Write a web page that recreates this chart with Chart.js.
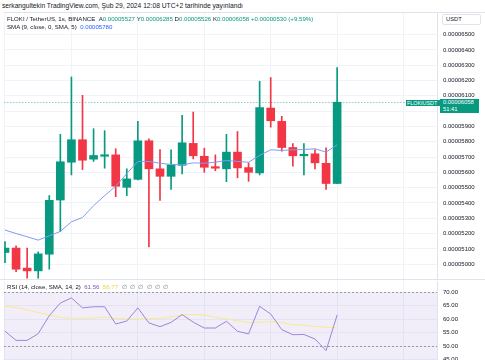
<!DOCTYPE html>
<html>
<head>
<meta charset="utf-8">
<script src="https://cdn.jsdelivr.net/npm/chart.js@4.4.1/dist/chart.umd.min.js"></script>
<style>
  body { margin: 0; width: 485px; height: 360px; overflow: hidden; background: #fff;
         font-family: "Liberation Sans", Arial, sans-serif; color: #131722; position: relative; }
  .t { position: absolute; white-space: nowrap; line-height: 1; }
  .g { color: #089981; }
  #main { position: absolute; left: 0; top: 13px; }
  #rsi { position: absolute; left: 0; top: 281px; }
  #sep { position: absolute; left: 0; top: 279px; width: 485px; height: 1px; background: #e0e3eb; }
  #frame { position: absolute; left: 4px; top: 12px; width: 481px; height: 1px; background: #e0e3eb; }
</style>
</head>
<body>
<div class="t" style="left:2px;top:3px;font-size:6.7px;">serkangultekin TradingView.com, Şub 29, 2024 12:08 UTC+2 tarihinde yayınlandı</div>
<div id="frame"></div>
<canvas id="main" width="485" height="266"></canvas>
<div id="sep"></div>
<canvas id="rsi" width="485" height="79"></canvas>

<div class="t" style="left:7px;top:16px;font-size:6.1px;">FLOKI / TetherUS, 1s, BINANCE&nbsp;&nbsp;A<span class="g">0.00005527</span>&nbsp;Y<span class="g">0.00006285</span>&nbsp;D<span class="g">0.00005526</span>&nbsp;K<span class="g">0.00006058</span>&nbsp;<span class="g">+0.00000530 (+9.59%)</span></div>
<div class="t" style="left:7px;top:24px;font-size:6.1px;">SMA (9, close, 0, SMA, 5)&nbsp;&nbsp;<span style="color:#2962ff">0.00005780</span></div>
<div class="t" style="left:7px;top:283.5px;font-size:6.1px;">RSI (14, close, SMA, 14, 2)&nbsp;&nbsp;<span style="color:#7e57c2">61.56</span>&nbsp;&nbsp;<span style="color:#f2d33a">56.77</span>&nbsp;&nbsp;<span style="color:#787b86">∅&nbsp;&nbsp;∅&nbsp;&nbsp;∅&nbsp;&nbsp;∅&nbsp;&nbsp;∅&nbsp;&nbsp;∅</span></div>

<div class="t" style="left:442px;top:14px;width:34px;height:9px;border:1px solid #e0e3eb;border-radius:2px;background:#fff;font-size:5.8px;padding:0 0 0 3px;line-height:9px;">USDT</div>
<div class="t" style="left:406px;top:99.5px;width:33px;height:6.5px;background:#089981;color:#fff;font-size:5.4px;line-height:6.5px;padding-left:1px;">FLOKIUSDT</div>
<div class="t" style="left:440px;top:99px;width:39px;height:13.5px;background:#089981;color:#fff;font-size:5.8px;padding-left:3px;box-sizing:border-box;">
  <div style="margin-top:1px;">0.00006058</div><div style="margin-top:1px;">51:41</div>
</div>

<script>
// 1s candles, prices in units of 1e-8 USDT
const open  = [5076,5105,4974,4956,5065,5419,5666,5813,5686,5705,5714,5502,5554,5806,5623,5574,5646,5789,5705,5636,5623,5732,5631,5596,6020,5933,5762,5708,5721,5659,5527];
const high  = [5148,5120,5105,5080,5448,5848,6223,6103,5885,5872,5754,5623,5933,5819,5749,5747,5972,5994,5758,5714,5848,5867,5662,6195,6219,5966,5787,5787,5749,5760,6285];
const low   = [5010,4951,4908,4908,4967,5214,5583,5618,5671,5627,5441,5448,5550,5113,5417,5489,5590,5688,5600,5610,5539,5564,5541,5583,5895,5738,5640,5583,5623,5489,5526];
const close = [5105,4967,4956,5067,5417,5669,5813,5679,5710,5712,5509,5557,5806,5623,5574,5649,5793,5708,5633,5627,5732,5629,5600,6023,5937,5762,5708,5718,5662,5527,6058];
const sma9  = [5223,5200,5179,5157,5185,5214,5277,5305,5382,5448,5509,5592,5671,5671,5659,5651,5649,5662,5659,5666,5677,5671,5666,5710,5747,5743,5747,5749,5754,5732,5780];

const rsi    = [55.5,52.1,52.1,54.6,61.3,66.0,67.9,64.2,64.6,64.6,58.2,59.3,64.2,58.6,57.2,58.8,61.7,58.9,56.7,56.7,59.2,55.5,54.5,64.8,61.9,56.1,54.2,54.3,52.6,48.3,61.56];
const rsiSma = [64.8,64.3,63.5,62.5,61.5,60.7,60.4,60.4,60.4,60.8,60.2,60.1,60.1,60.2,60.3,60.8,61.6,61.7,61.5,60.7,60.1,59.4,58.8,58.8,59.1,58.7,57.9,57.7,57.3,57.0,56.77];

const priceTicks = [5000,5100,5200,5300,5400,5500,5600,5700,5800,5900,6000,6100,6200,6300,6400,6500];
const rsiTicks = [45,50,55,60,65,70];
const rsiBands = [70, 50, 30];
const timeGrid = [0,6,12,18,24,30,36];

const UP = '#089981', DOWN = '#f23645', GRID = '#f0f3fa';
const idx = close.map((_, i) => i);
const col = idx.map(i => close[i] >= open[i] ? UP : DOWN);

const xScale = {
  type: 'linear', min: -0.09, max: 39.02, offset: false,
  afterBuildTicks: s => { s.ticks = timeGrid.map(v => ({ value: v })); },
  afterFit: s => { s.height = 0; s.paddingLeft = 0; s.paddingRight = 0; },
  ticks: { display: false },
  grid: { color: GRID, drawTicks: false, offset: false },
  border: { display: false }
};

function yAxis(min, max, ticks, fmt) {
  return {
    position: 'right', min, max,
    afterBuildTicks: s => { s.ticks = ticks.map(v => ({ value: v })); },
    afterFit: s => { s.width = 48; s.paddingTop = 0; s.paddingBottom = 0; },
    ticks: { padding: 6, color: '#131722', font: { size: 6, family: 'Liberation Sans' }, callback: fmt },
    grid: { color: GRID, drawTicks: false },
    border: { color: '#e0e3eb' }
  };
}

const priceLine = {
  id: 'priceLine',
  afterDatasetsDraw(chart) {
    const { ctx, chartArea: a, scales: { y } } = chart;
    const py = Math.round(y.getPixelForValue(close[close.length - 1])) + 0.5;
    ctx.save();
    ctx.strokeStyle = 'rgba(8,153,129,0.45)';
    ctx.setLineDash([1.5, 1.5]);
    ctx.lineWidth = 1;
    ctx.beginPath(); ctx.moveTo(a.left, py); ctx.lineTo(a.right, py); ctx.stroke();
    ctx.restore();
  }
};

new Chart(document.getElementById('main'), {
  type: 'bar',
  data: {
    datasets: [
      { type: 'line', data: idx.map(i => ({ x: i, y: sma9[i] })), borderColor: '#7f9cf5', borderWidth: 1,
        pointRadius: 0, tension: 0, order: 0 },
      { data: idx.map(i => ({ x: i, y: [low[i], high[i]] })), backgroundColor: col, barThickness: 1,
        grouped: false, order: 2 },
      { data: idx.map(i => ({ x: i, y: [open[i], close[i]] })), backgroundColor: col, barThickness: 8,
        minBarLength: 1.5, grouped: false, order: 1 }
    ]
  },
  options: {
    responsive: false, animation: false,
    layout: { padding: { left: 4, top: 0, bottom: 0, right: 0 } },
    plugins: { legend: { display: false }, tooltip: { enabled: false } },
    scales: {
      x: xScale,
      y: yAxis(4903, 6641, priceTicks, v => (v * 1e-8).toFixed(8))
    }
  },
  plugins: [priceLine]
});

const rsiBand = {
  id: 'rsiBand',
  beforeDatasetsDraw(chart) {
    const { ctx, chartArea: a, scales: { y } } = chart;
    const top = y.getPixelForValue(rsiBands[0]);
    const bot = Math.min(a.bottom, y.getPixelForValue(rsiBands[2]));
    ctx.save();
    ctx.fillStyle = 'rgba(126,87,194,0.1)';
    ctx.fillRect(a.left, top, a.right - a.left, bot - top);
    ctx.strokeStyle = '#9598a1';
    ctx.setLineDash([2, 2]);
    ctx.lineWidth = 1;
    [rsiBands[0], rsiBands[1]].forEach(v => {
      const py = Math.round(y.getPixelForValue(v)) + 0.5;
      ctx.beginPath(); ctx.moveTo(a.left, py); ctx.lineTo(a.right, py); ctx.stroke();
    });
    ctx.restore();
  }
};

new Chart(document.getElementById('rsi'), {
  type: 'line',
  data: {
    datasets: [
      { data: idx.map(i => ({ x: i, y: rsi[i] })), borderColor: '#9c84d6', borderWidth: 1, pointRadius: 0, tension: 0 },
      { data: idx.map(i => ({ x: i, y: rsiSma[i] })), borderColor: '#f7e98e', borderWidth: 1, pointRadius: 0, tension: 0 }
    ]
  },
  options: {
    responsive: false, animation: false,
    layout: { padding: { left: 4, top: 0, bottom: 0, right: 0 } },
    plugins: { legend: { display: false }, tooltip: { enabled: false } },
    scales: {
      x: xScale,
      y: yAxis(44.8, 74.2, rsiTicks, v => v.toFixed(2))
    }
  },
  plugins: [rsiBand]
});
</script>
</body>
</html>
